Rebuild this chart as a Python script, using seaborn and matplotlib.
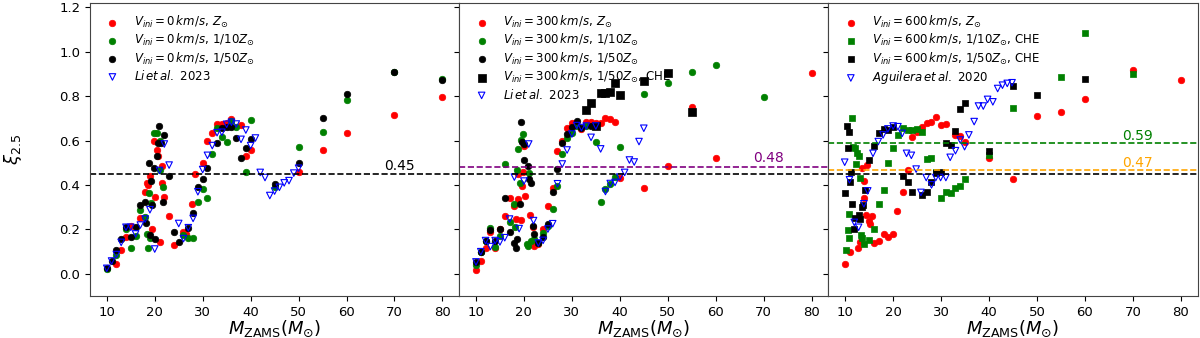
import numpy as np
import pandas as pd
import seaborn as sns
import matplotlib
matplotlib.use('Agg')
import matplotlib.pyplot as plt

# ---- panel 1: Vini = 0 km/s
p1_red_m = [12, 13, 14, 15, 17, 17.9, 18.3, 18.6, 19, 19.5, 20, 19.8, 20.4, 20.7, 21.6, 21.5, 22, 23, 21, 24, 26, 26.6, 27.7, 28.4, 30, 31, 32, 33, 34, 35, 36, 38, 39, 40, 50, 55, 60, 70, 80]
p1_red_xi = [0.045, 0.106, 0.166, 0.216, 0.25, 0.37, 0.41, 0.40, 0.44, 0.2, 0.345, 0.60, 0.56, 0.53, 0.485, 0.41, 0.345, 0.262, 0.144, 0.13, 0.19, 0.18, 0.314, 0.448, 0.50, 0.60, 0.636, 0.675, 0.675, 0.68, 0.696, 0.67, 0.53, 0.56, 0.46, 0.558, 0.633, 0.714, 0.796]
p1_green_m = [10, 12, 14, 15, 16, 17, 18, 18.3, 18.5, 18.9, 19.3, 19.1, 19.9, 20.5, 21, 21, 21.7, 26, 27, 28, 29, 30, 31, 32, 33, 34, 35, 36, 37, 39, 40, 45, 50, 55, 60, 70, 80]
p1_green_xi = [0.02, 0.087, 0.20, 0.118, 0.17, 0.29, 0.255, 0.18, 0.117, 0.364, 0.32, 0.16, 0.636, 0.636, 0.60, 0.47, 0.39, 0.177, 0.163, 0.162, 0.323, 0.382, 0.34, 0.54, 0.656, 0.615, 0.596, 0.69, 0.663, 0.458, 0.692, 0.39, 0.573, 0.64, 0.783, 0.91, 0.879]
p1_black_m = [10, 11, 12, 13, 14, 15, 16, 17, 18, 18.1, 18.9, 19.3, 19.5, 19, 20, 19.9, 20.4, 20.6, 20.9, 21.4, 22, 21.7, 23, 24, 25, 27, 28, 29, 30, 31, 33, 34, 35, 36, 37, 38, 39, 40, 45, 50, 55, 60, 70, 80]
p1_black_xi = [0.025, 0.058, 0.106, 0.159, 0.21, 0.166, 0.211, 0.311, 0.322, 0.229, 0.50, 0.418, 0.311, 0.177, 0.157, 0.476, 0.531, 0.591, 0.666, 0.588, 0.626, 0.323, 0.442, 0.189, 0.142, 0.207, 0.274, 0.39, 0.427, 0.479, 0.588, 0.656, 0.663, 0.663, 0.611, 0.524, 0.566, 0.606, 0.405, 0.50, 0.70, 0.81, 0.91, 0.873]
p1_li_m = [10, 11, 12, 13, 14, 15, 16, 17, 18, 19, 20, 21, 22, 23, 25, 26, 27, 28, 29, 30, 31, 32, 33, 34, 35, 36, 37, 38, 39, 40, 41, 42, 43, 44, 45, 46, 47, 48, 49, 50]
p1_li_xi = [0.025, 0.058, 0.087, 0.142, 0.21, 0.21, 0.18, 0.22, 0.247, 0.289, 0.112, 0.466, 0.585, 0.49, 0.227, 0.159, 0.208, 0.25, 0.37, 0.47, 0.534, 0.578, 0.636, 0.638, 0.674, 0.683, 0.675, 0.606, 0.648, 0.578, 0.612, 0.457, 0.434, 0.353, 0.373, 0.39, 0.41, 0.42, 0.454, 0.476]

# ---- panel 2: Vini = 300 km/s
p2_red_m = [10, 11, 12, 13, 14, 15, 16, 17, 18, 18.3, 18.7, 19.4, 19.6, 20.1, 19.9, 20.3, 18.75, 21.25, 21.8, 22.1, 23, 24, 25, 26, 27, 28, 29, 30, 32, 33, 34, 35, 36, 37, 38, 39, 40, 45, 50, 55, 60, 80]
p2_red_xi = [0.018, 0.06, 0.117, 0.19, 0.117, 0.2, 0.262, 0.34, 0.305, 0.247, 0.337, 0.244, 0.394, 0.578, 0.458, 0.349, 0.449, 0.266, 0.21, 0.124, 0.135, 0.2, 0.304, 0.385, 0.555, 0.60, 0.656, 0.68, 0.651, 0.683, 0.683, 0.68, 0.678, 0.702, 0.698, 0.684, 0.434, 0.386, 0.484, 0.753, 0.521, 0.907]
p2_green_m = [10, 11, 12, 13, 14, 15, 16, 17, 18, 18.05, 18.5, 18.7, 19.1, 19.4, 19.9, 20.6, 20.9, 21.1, 21.5, 22, 23, 24, 25, 26, 27, 28, 29, 30, 31, 33, 35, 36, 37, 38, 39, 40, 45, 50, 55, 60, 70]
p2_green_xi = [0.042, 0.1, 0.147, 0.206, 0.121, 0.17, 0.496, 0.232, 0.316, 0.21, 0.469, 0.563, 0.41, 0.603, 0.63, 0.135, 0.124, 0.454, 0.147, 0.157, 0.14, 0.184, 0.214, 0.292, 0.397, 0.539, 0.614, 0.636, 0.666, 0.666, 0.593, 0.323, 0.383, 0.407, 0.436, 0.573, 0.81, 0.858, 0.91, 0.943, 0.796]
p2_black_m = [10, 11, 12, 13, 14, 15, 16, 17, 18, 18.3, 18.5, 19.1, 19.3, 19.6, 20.1, 20.1, 20.8, 21.1, 21.5, 21.8, 22, 23, 24, 25, 26, 27, 28, 29, 30, 31, 32, 34]
p2_black_xi = [0.054, 0.1, 0.15, 0.196, 0.147, 0.204, 0.34, 0.187, 0.139, 0.117, 0.157, 0.316, 0.686, 0.593, 0.585, 0.513, 0.484, 0.427, 0.409, 0.214, 0.18, 0.14, 0.166, 0.226, 0.367, 0.473, 0.588, 0.63, 0.66, 0.69, 0.659, 0.668]
p2_che_m = [33, 34, 35, 36, 37, 38, 39, 40, 45, 50, 55]
p2_che_xi = [0.738, 0.772, 0.666, 0.816, 0.816, 0.82, 0.862, 0.804, 0.867, 0.906, 0.728]
p2_li_m = [10, 11, 12, 13, 14, 15, 16, 17, 18, 19, 20, 21, 22, 23, 24, 25, 26, 27, 28, 29, 30, 31, 32, 33, 34, 35, 36, 37, 38, 39, 40, 41, 42, 43, 44, 45]
p2_li_xi = [0.054, 0.1, 0.15, 0.123, 0.15, 0.144, 0.163, 0.247, 0.436, 0.204, 0.418, 0.585, 0.24, 0.139, 0.151, 0.202, 0.226, 0.406, 0.495, 0.558, 0.63, 0.668, 0.659, 0.666, 0.615, 0.666, 0.563, 0.371, 0.407, 0.412, 0.436, 0.457, 0.513, 0.504, 0.596, 0.656]

# ---- panel 3: Vini = 600 km/s
p3_red_m = [10, 11, 12.6, 13, 13.5, 13.9, 13.9, 14.4, 14.9, 15.1, 14.6, 15.6, 16, 17, 18, 19, 20, 20.9, 22, 23, 24, 25, 26, 27, 28, 29, 30, 31, 33, 34, 35, 40, 45, 50, 55, 60, 70, 80]
p3_red_xi = [0.046, 0.097, 0.115, 0.142, 0.479, 0.42, 0.34, 0.266, 0.24, 0.226, 0.491, 0.26, 0.139, 0.147, 0.18, 0.165, 0.18, 0.284, 0.367, 0.469, 0.615, 0.64, 0.66, 0.678, 0.684, 0.708, 0.669, 0.674, 0.626, 0.621, 0.596, 0.521, 0.428, 0.713, 0.73, 0.79, 0.92, 0.873]
p3_green_m = [10.1, 10.5, 10.7, 10.8, 11.4, 11.7, 12.1, 12.4, 12.8, 12.2, 13, 13.3, 13.6, 14, 14.9, 16, 17, 18, 19, 20, 21, 22, 23, 24, 25, 26, 27, 28, 29, 30, 31, 32, 33, 34, 35, 40, 45, 55, 60, 70]
p3_green_xi = [0.106, 0.196, 0.16, 0.27, 0.70, 0.573, 0.566, 0.543, 0.531, 0.494, 0.431, 0.177, 0.162, 0.136, 0.151, 0.202, 0.316, 0.376, 0.501, 0.569, 0.626, 0.659, 0.648, 0.648, 0.651, 0.641, 0.516, 0.522, 0.461, 0.341, 0.367, 0.364, 0.386, 0.397, 0.428, 0.536, 0.746, 0.888, 1.085, 0.90]
p3_black_m = [10, 10.3, 10.7, 10.5, 11, 11.2, 11.4, 11.8, 12.1, 12.8, 13.1, 13.5, 13.8, 14.1, 14.9, 16, 17, 18, 19, 20, 22, 23, 24, 26, 27, 28, 29, 30, 31, 32, 33, 34, 35, 40, 45, 50, 60]
p3_black_xi = [0.364, 0.666, 0.639, 0.566, 0.416, 0.457, 0.316, 0.204, 0.251, 0.266, 0.249, 0.301, 0.311, 0.379, 0.513, 0.578, 0.636, 0.653, 0.648, 0.663, 0.439, 0.416, 0.367, 0.356, 0.367, 0.416, 0.454, 0.461, 0.591, 0.579, 0.644, 0.741, 0.771, 0.555, 0.846, 0.805, 0.877]
p3_ag_m = [9.9, 10.9, 11.9, 12.8, 13.9, 14.7, 15.8, 16.9, 17.9, 18.9, 20, 21, 21.9, 22.8, 23.8, 24.8, 25.8, 26.9, 28, 28.9, 29.9, 31, 31.9, 33, 34, 34.9, 35.8, 36.9, 37.8, 38.8, 39.7, 40.8, 41.8, 42.8, 43.8, 44.8]
p3_ag_xi = [0.503, 0.424, 0.232, 0.21, 0.316, 0.374, 0.543, 0.596, 0.626, 0.653, 0.666, 0.663, 0.633, 0.543, 0.534, 0.472, 0.367, 0.434, 0.401, 0.434, 0.434, 0.434, 0.525, 0.555, 0.603, 0.573, 0.626, 0.686, 0.756, 0.756, 0.786, 0.775, 0.835, 0.85, 0.858, 0.861]

fig, axes = plt.subplots(1, 3, figsize=(12, 3.38), dpi=100, sharey=True)
fig.subplots_adjust(left=0.075, right=0.998, top=0.991, bottom=0.124, wspace=0)

def dots(ax, m, xi, col, lab, marker='o', s=22):
    sns.scatterplot(x=m, y=xi, ax=ax, color=col, marker=marker, s=s,
                    edgecolor=col, linewidth=0.5, label=lab)

def tri(ax, m, xi, lab):
    sns.scatterplot(x=m, y=xi, ax=ax, color='blue', marker='v', s=22,
                    facecolor='none', edgecolor='blue', linewidth=0.8, label=lab)

ax = axes[0]
dots(ax, p1_red_m, p1_red_xi, 'red', r'$V_{ini}=0\,km/s,\,Z_{\odot}$')
dots(ax, p1_green_m, p1_green_xi, 'green', r'$V_{ini}=0\,km/s,\,1/10Z_{\odot}$')
dots(ax, p1_black_m, p1_black_xi, 'black', r'$V_{ini}=0\,km/s,\,1/50Z_{\odot}$')
tri(ax, p1_li_m, p1_li_xi, r'$Li\,et\,al.$ 2023')
ax.axhline(0.45, color='black', ls='--', lw=1.2)
ax.text(71, 0.485, '0.45', color='black', ha='center', va='center', fontsize=10)

ax = axes[1]
dots(ax, p2_red_m, p2_red_xi, 'red', r'$V_{ini}=300\,km/s,\,Z_{\odot}$')
dots(ax, p2_green_m, p2_green_xi, 'green', r'$V_{ini}=300\,km/s,\,1/10Z_{\odot}$')
dots(ax, p2_black_m, p2_black_xi, 'black', r'$V_{ini}=300\,km/s,\,1/50Z_{\odot}$')
dots(ax, p2_che_m, p2_che_xi, 'black', r'$V_{ini}=300\,km/s,\,1/50Z_{\odot}$, CHE', marker='s', s=30)
tri(ax, p2_li_m, p2_li_xi, r'$Li\,et\,al.$ 2023')
ax.axhline(0.48, color='purple', ls='--', lw=1.2)
ax.axhline(0.45, color='black', ls='--', lw=1.2)
ax.text(71, 0.52, '0.48', color='purple', ha='center', va='center', fontsize=10)

ax = axes[2]
dots(ax, p3_red_m, p3_red_xi, 'red', r'$V_{ini}=600\,km/s,\,Z_{\odot}$')
dots(ax, p3_green_m, p3_green_xi, 'green', r'$V_{ini}=600\,km/s,\,1/10Z_{\odot}$, CHE', marker='s', s=20)
dots(ax, p3_black_m, p3_black_xi, 'black', r'$V_{ini}=600\,km/s,\,1/50Z_{\odot}$, CHE', marker='s', s=20)
tri(ax, p3_ag_m, p3_ag_xi, r'$Aguilera\,et\,al.$ 2020')
ax.axhline(0.59, color='green', ls='--', lw=1.2)
ax.axhline(0.47, color='orange', ls='--', lw=1.2)
ax.axhline(0.45, color='black', ls='--', lw=1.2)
ax.text(71, 0.62, '0.59', color='green', ha='center', va='center', fontsize=10)
ax.text(71, 0.50, '0.47', color='orange', ha='center', va='center', fontsize=10)

for ax in axes:
    ax.set_xticks([10, 20, 30, 40, 50, 60, 70, 80])
    ax.set_yticks([0.0, 0.2, 0.4, 0.6, 0.8, 1.0, 1.2])
    ax.set_xlim(6.5, 83.5)
    ax.set_ylim(-0.1, 1.22)
    ax.tick_params(labelsize=9.5)
    ax.set_xlabel(r'$M_{\rm ZAMS}(M_{\odot})$', fontsize=13, labelpad=0)
    ax.legend(loc='upper left', frameon=False, fontsize=8.5, labelspacing=0.2)
    for sp in ax.spines.values():
        sp.set_color('#444444')

axes[0].set_ylabel(r'$\xi_{2.5}$', fontsize=13)
axes[0].yaxis.set_label_coords(-0.18, 0.5)

plt.savefig('out.png', dpi=100)
